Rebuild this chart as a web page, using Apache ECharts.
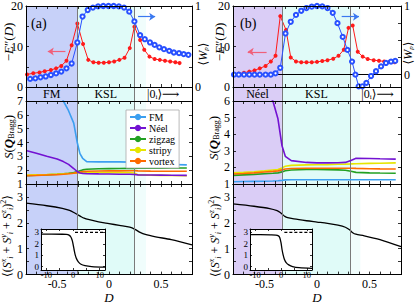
<!DOCTYPE html>
<html><head><meta charset="utf-8">
<script src="https://cdn.jsdelivr.net/npm/echarts@6/dist/echarts.min.js"></script>
<style>html,body{margin:0;padding:0;background:#fff}#c{width:415px;height:305px}</style>
</head><body><div id="c"></div>
<script>
// ---------------- data ----------------
// top panels: -E''(D) (red, filled) and <W_p> (blue, open)
const dE_a = [-0.79,-0.73,-0.67,-0.62,-0.56,-0.51,-0.46,-0.41,-0.36,-0.305,-0.25,-0.2,-0.15,-0.1,-0.05,0,0.05,0.1,0.15,0.2,0.245,0.3,0.34,0.39,0.44,0.49,0.54,0.59,0.64,0.68];
const E_a  = [3.1,3.4,3.6,3.9,4.2,4.6,5.2,6.5,10.3,15.7,10.6,6.7,6.1,6.0,6.0,6.1,6.3,6.7,7.2,9.6,14.9,11.6,9.2,7.5,6.9,6.7,6.5,6.3,6.1,5.9];
const dW_a = [-0.76,-0.71,-0.66,-0.61,-0.56,-0.51,-0.46,-0.41,-0.36,-0.305,-0.255,-0.205,-0.155,-0.105,-0.055,-0.005,0.045,0.095,0.145,0.195,0.245,0.3,0.345,0.395,0.44,0.485,0.53,0.58,0.625,0.675,0.72,0.765];
const W_a  = [0.10,0.107,0.12,0.13,0.148,0.168,0.19,0.23,0.29,0.55,0.87,0.95,0.98,0.995,1.0,1.0,1.0,0.995,0.98,0.93,0.81,0.64,0.59,0.55,0.52,0.49,0.467,0.446,0.426,0.418,0.406,0.397];

const dE_b = [-0.79,-0.745,-0.695,-0.645,-0.595,-0.545,-0.49,-0.44,-0.395,-0.35,-0.295,-0.25,-0.2,-0.15,-0.1,-0.05,0,0.05,0.1,0.155,0.205,0.255,0.3,0.34,0.388,0.435,0.483,0.54,0.59,0.64,0.69,0.74];
const E_b  = [3.0,3.3,3.5,3.8,4.1,4.6,5.2,6.3,7.7,17.5,14.1,7.3,6.3,6.1,6.1,6.1,6.2,6.4,6.6,7.0,7.7,9.2,14.6,15.2,8.7,7.5,6.9,6.6,6.5,6.3,6.2,6.1];
const dW_b = [-0.79,-0.745,-0.695,-0.645,-0.595,-0.545,-0.49,-0.44,-0.395,-0.35,-0.3,-0.25,-0.2,-0.15,-0.1,-0.05,0,0.05,0.1,0.15,0.195,0.245,0.29,0.334,0.366,0.397,0.432,0.47,0.515,0.562,0.61,0.657,0.705,0.745];
const W_b  = [0,0,0,0,0,0,0,0,0.02,0.1,0.6,0.77,0.87,0.93,0.97,0.99,1.0,0.995,0.97,0.9,0.75,0.55,0.36,0.19,0.0,-0.17,-0.17,-0.12,-0.02,0.05,0.12,0.17,0.19,0.2];

// middle panels: S(Q_Bragg)
const dS_a   = [-0.8,-0.7,-0.6,-0.5,-0.44,-0.39,-0.34,-0.306,-0.28,-0.254,-0.215,-0.1,0,0.1,0.2,0.244,0.28,0.4,0.5,0.6,0.75];
const sFM_a  = [12,10.7,9.5,7.9,7.0,6.3,5.4,4.0,3.2,2.86,2.62,2.6,2.6,2.6,2.58,2.55,2.47,2.45,2.43,2.41,2.38];
const sNeel_a= [3.42,3.22,3.0,2.8,2.62,2.42,2.12,1.9,1.8,1.77,1.75,1.73,1.72,1.71,1.7,1.69,1.66,1.65,1.64,1.63,1.62];
const sZig_a = [1.6,1.63,1.66,1.7,1.74,1.78,1.83,1.88,1.95,2.02,2.07,2.1,2.11,2.12,2.13,2.13,2.14,2.15,2.15,2.16,2.16];
const sStr_a = [1.65,1.67,1.69,1.72,1.74,1.76,1.78,1.8,1.81,1.82,1.82,1.82,1.82,1.82,1.82,1.8,1.66,1.63,1.62,1.61,1.6];
const sVor_a = [1.6,1.62,1.65,1.68,1.71,1.74,1.78,1.82,1.86,1.9,1.92,1.94,1.95,1.95,1.96,1.96,1.95,1.93,1.92,1.92,1.92];

const dS_b   = [-0.8,-0.7,-0.6,-0.5,-0.42,-0.372,-0.334,-0.302,-0.245,-0.1,0,0.1,0.2,0.27,0.323,0.372,0.5,0.6,0.75];
const sFM_b  = [1.14,1.15,1.16,1.17,1.18,1.2,1.22,1.25,1.26,1.26,1.26,1.26,1.26,1.26,1.26,1.26,1.26,1.26,1.26];
const sNeel_b= [10,8.8,7.7,6.8,6.0,4.93,3.32,2.67,2.41,2.3,2.27,2.27,2.28,2.3,2.42,2.55,2.54,2.52,2.5];
const sZig_b = [1.52,1.55,1.58,1.62,1.65,1.67,1.73,1.8,1.84,1.87,1.87,1.86,1.85,1.83,1.77,1.7,1.67,1.66,1.65];
const sStr_b = [1.67,1.7,1.74,1.79,1.84,1.87,1.97,2.07,2.12,2.15,2.16,2.17,2.19,2.2,2.21,2.22,2.24,2.25,2.27];
const sVor_b = [1.6,1.63,1.67,1.72,1.76,1.79,1.85,1.9,1.93,1.95,1.95,1.95,1.95,1.95,1.95,1.94,1.92,1.91,1.9];

// bottom panels: <(Sx+Sy+Sz)^2>
const dB_a = [-0.8,-0.6,-0.45,-0.38,-0.33,-0.3,-0.27,-0.24,-0.2,-0.1,0,0.1,0.2,0.25,0.3,0.35,0.45,0.6,0.8];
const B_a  = [2.76,2.66,2.56,2.48,2.38,2.31,2.24,2.18,2.13,2.04,1.97,1.9,1.83,1.75,1.63,1.55,1.46,1.35,1.15];
const dB_b = [-0.8,-0.6,-0.45,-0.38,-0.35,-0.33,-0.31,-0.28,-0.22,-0.1,0,0.1,0.2,0.27,0.31,0.34,0.37,0.45,0.6,0.8];
const B_b  = [2.73,2.64,2.55,2.47,2.4,2.33,2.26,2.2,2.15,2.08,2.03,1.98,1.91,1.83,1.73,1.62,1.56,1.5,1.35,1.08];

// insets
const dI_a = [-12,-8,-4,-2.5,-1.5,-0.8,-0.3,0,0.4,0.8,1.3,2,3,4.5,7,12];
const I_a  = [2.85,2.85,2.84,2.82,2.76,2.6,2.3,2.0,1.5,1.05,0.7,0.42,0.2,0.08,0.0,-0.05];
const dI_b = [-12,-8,-4,-2,-1,-0.5,0,0.4,0.8,1.3,2,3,4.5,7,12];
const I_b  = [2.8,2.8,2.79,2.77,2.7,2.55,2.1,1.5,1.05,0.65,0.35,0.15,0.0,-0.1,-0.15];
const dDash_a = [0.75,12], yDash_a = [3,3];
const dDash_b = [1.3,12],  yDash_b = [3,3];

// phase boundaries
const bounds_a = [-0.306,0.244,0.357];
const bounds_b = [-0.334,0.323,0.413];

// ticks / tick labels
const D_TICKS  = [-0.8,-0.7,-0.6,-0.5,-0.4,-0.3,-0.2,-0.1,0,0.1,0.2,0.3,0.4,0.5,0.6,0.7,0.8];
const D_LABELS = [-0.5,0,0.5];
const E_TICKS = [0,5,10,15,20], E_LABELS = [0,10,20];
const W_TICKS = [0,0.25,0.5,0.75,1], W_LABELS = [0,1];
const S_TICKS_a = [1,2,3,4,5,6,7], S_TICKS_b = [1,2,3,4,5,6];
const B_TICKS = [0,0.5,1,1.5,2,2.5,3], B_LABELS = [0,1,2,3];
const IX_TICKS = [-10,-5,0,5,10], IX_LABELS = [-10,0,10];
const IY_TICKS = [0,1,2,3];
const LEGEND = ['FM','Néel','zigzag','stripy','vortex'];

// ---------------- layout / style ----------------
const FONT = '"Liberation Serif","DejaVu Serif",serif';
const COLORS = {FM:'#3c9ff0', 'Néel':'#7312d2', zigzag:'#23a023', stripy:'#e6e600', vortex:'#ff6a00'};
const RED = '#ff1a1a', BLUE = '#2850ff';
const KSL = '#e0fbf8', LIGHT = '#f0fdfc';

const grids = [], xAxes = [], yAxes = [], series = [];
function addGrid(o){ grids.push(Object.assign({containLabel:false}, o)); return grids.length-1; }
function addAxis(list, g, pos, min, max, ticks, labels, o){
  o = o || {};
  list.push({
    gridIndex:g, type:'value', position:pos, min:min, max:max, z:o.z||10, show:o.show!==false,
    axisLine:{show:true, onZero:false, lineStyle:{color:'#000', width:1}},
    axisTick:{show:!!ticks, inside:true, length:o.tl||3, customValues:ticks||[], lineStyle:{color:'#000', width:0.8}},
    axisLabel:{show:!!labels, customValues:labels||[], color:'#000', fontFamily:FONT, fontSize:o.fs||12,
      margin:(o.margin===undefined?3:o.margin), lineHeight:o.lh},
    splitLine:{show:false},
    name:o.name, nameLocation:'middle', nameGap:o.nameGap,
    nameTextStyle:{fontFamily:FONT, fontStyle:'italic', fontSize:13, color:'#000'}
  });
  return list.length-1;
}
function pairs(xs, ys){ return xs.map((x,i)=>[x, ys[i]]); }
function bg(xi, yi, b, phaseColor, withText, phaseName){
  const txt = {show:!!withText, position:'inside', color:'#000', fontFamily:FONT, fontSize:12};
  return {
    type:'line', data:[], xAxisIndex:xi, yAxisIndex:yi, silent:true, z:1, symbol:'none',
    markArea:{silent:true, label:txt, data:[
      [{xAxis:-0.8, name:phaseName, itemStyle:{color:phaseColor}}, {xAxis:b[0]}],
      [{xAxis:b[0], name:'KSL', itemStyle:{color:KSL}}, {xAxis:b[1]}],
      [{xAxis:b[1], name:'', itemStyle:{color:LIGHT}}, {xAxis:b[2]}],
      [{xAxis:b[2], name:'|0ᵢ⟩⟶', itemStyle:{color:'rgba(0,0,0,0)'}, label:{position:'insideLeft', distance:1}}, {xAxis:0.8}]
    ]},
    markLine:{silent:true, symbol:'none', label:{show:false}, lineStyle:{color:'#7a7a7a', width:1, type:'solid'},
      data:[{xAxis:b[0]},{xAxis:b[1]}]}
  };
}

const PANELS = [
  {left:26, width:166, b:bounds_a, phase:'FM', phaseColor:'#c7d1f9', wMin:0,
   E:[dE_a,E_a], W:[dW_a,W_a], dS:dS_a, S:[sFM_a,sNeel_a,sZig_a,sStr_a,sVor_a], sMax:7, sTicks:S_TICKS_a,
   B:[dB_a,B_a], I:[dI_a,I_a], dash:[dDash_a,yDash_a], inset:{left:41,top:229,width:64,height:41},
   arrows:{red:[-0.42,-0.59,8.75], blue:[0.28,0.445,0.868]}, zero:false},
  {left:233, width:168, b:bounds_b, phase:'Néel', phaseColor:'#dacdf6', wMin:-0.18,
   E:[dE_b,E_b], W:[dW_b,W_b], dS:dS_b, S:[sFM_b,sNeel_b,sZig_b,sStr_b,sVor_b], sMax:6, sTicks:S_TICKS_b,
   B:[dB_b,B_b], I:[dI_b,I_b], dash:[dDash_b,yDash_b], inset:{left:250,top:229,width:62,height:41},
   arrows:{red:[-0.48,-0.66,8.7], blue:[0.235,0.40,0.844]}, zero:true}
];

PANELS.forEach((P, pi) => {
  const L = P.left, Wd = P.width;
  // --- top ---
  const gT = addGrid({left:L, top:6, width:Wd, height:81});
  const xT = addAxis(xAxes, gT, 'bottom', -0.8, 0.8, D_TICKS, null);
  addAxis(xAxes, gT, 'top', -0.8, 0.8, D_TICKS, null);
  const yT = addAxis(yAxes, gT, 'left', 0, 20, E_TICKS, E_LABELS);
  const yW = addAxis(yAxes, gT, 'right', P.wMin, 1, W_TICKS, W_LABELS);
  series.push(bg(xT, yT, P.b, P.phaseColor, false, ''));
  const aR = P.arrows.red, aB = P.arrows.blue;
  series.push({type:'line', data:pairs(P.E[0],P.E[1]), xAxisIndex:xT, yAxisIndex:yT, z:4,
    symbol:'circle', symbolSize:4, color:RED, lineStyle:{color:RED, width:1}, itemStyle:{color:RED},
    markLine:{silent:true, symbol:['none','arrow'], symbolSize:6, label:{show:false},
      lineStyle:{color:'#f0607a', width:1.2, type:'solid'},
      data:[[{coord:[aR[0],aR[2]]},{coord:[aR[1],aR[2]]}]]}});
  const wML = [[{coord:[aB[0],aB[2]]},{coord:[aB[1],aB[2]]}]];
  if (P.zero) wML.push([{coord:[-0.8,0], symbol:'none', lineStyle:{color:'#000', width:1}},{coord:[0.8,0], symbol:'none'}]);
  series.push({type:'line', data:pairs(P.W[0],P.W[1]), xAxisIndex:xT, yAxisIndex:yW, z:5,
    symbol:'emptyCircle', symbolSize:4.2, color:BLUE, lineStyle:{color:BLUE, width:1},
    itemStyle:{color:BLUE, borderColor:BLUE, borderWidth:0.9},
    markLine:{silent:true, symbol:['none','arrow'], symbolSize:6, label:{show:false},
      lineStyle:{color:'#3a78f0', width:1.2, type:'solid'}, data:wML}});

  // --- strip ---
  const gS = addGrid({left:L, top:87, width:Wd, height:14});
  const xS = addAxis(xAxes, gS, 'bottom', -0.8, 0.8, null, null, {show:false});
  const yS = addAxis(yAxes, gS, 'left', 0, 1, null, null);
  addAxis(yAxes, gS, 'right', 0, 1, null, null);
  series.push(bg(xS, yS, P.b, P.phaseColor, true, P.phase));

  // --- middle ---
  const gM = addGrid({left:L, top:101, width:Wd, height:83});
  const xM = addAxis(xAxes, gM, 'bottom', -0.8, 0.8, D_TICKS, null);
  addAxis(xAxes, gM, 'top', -0.8, 0.8, D_TICKS, null);
  const yM = addAxis(yAxes, gM, 'left', 1, P.sMax, P.sTicks, P.sTicks);
  addAxis(yAxes, gM, 'right', 1, P.sMax, P.sTicks, null);
  series.push(bg(xM, yM, P.b, P.phaseColor, false, ''));
  LEGEND.forEach((nm, k) => {
    series.push({type:'line', name:nm, data:pairs(P.dS, P.S[k]), xAxisIndex:xM, yAxisIndex:yM,
      z:4 + (nm==='FM'||nm==='Néel' ? 1 : 0), symbol:'none', color:COLORS[nm],
      lineStyle:{color:COLORS[nm], width:1.6}});
  });

  // --- bottom ---
  const gB = addGrid({left:L, top:184, width:Wd, height:96});
  const xB = addAxis(xAxes, gB, 'bottom', -0.8, 0.8, D_TICKS, D_LABELS, {name:'D', nameGap:16, margin:3.5});
  addAxis(xAxes, gB, 'top', -0.8, 0.8, D_TICKS, null);
  const yB = addAxis(yAxes, gB, 'left', 0, 3.5, B_TICKS, B_LABELS);
  addAxis(yAxes, gB, 'right', 0, 3.5, B_TICKS, null);
  series.push(bg(xB, yB, P.b, P.phaseColor, false, ''));
  series.push({type:'line', data:pairs(P.B[0],P.B[1]), xAxisIndex:xB, yAxisIndex:yB, z:4,
    symbol:'none', smooth:0.3, lineStyle:{color:'#000', width:1.3}});

  // --- inset ---
  const I = P.inset;
  const gI = addGrid({left:I.left, top:I.top, width:I.width, height:I.height, show:true,
    backgroundColor:'#fff', borderWidth:0, z:20});
  const io = {z:22, fs:8.5, margin:0.5, tl:2, lh:8};
  const xI = addAxis(xAxes, gI, 'bottom', -12, 12, IX_TICKS, IX_LABELS, io);
  addAxis(xAxes, gI, 'top', -12, 12, IX_TICKS, null, io);
  const yI = addAxis(yAxes, gI, 'left', -0.3, 3.3, IY_TICKS, IY_TICKS, {z:22, fs:9, margin:2, tl:2, lh:9});
  addAxis(yAxes, gI, 'right', -0.3, 3.3, IY_TICKS, null, io);
  series.push({type:'line', data:pairs(P.I[0],P.I[1]), xAxisIndex:xI, yAxisIndex:yI, z:23,
    symbol:'none', smooth:0.3, lineStyle:{color:'#000', width:1.3}});
  series.push({type:'line', data:pairs(P.dash[0],P.dash[1]), xAxisIndex:xI, yAxisIndex:yI, z:23,
    symbol:'none', lineStyle:{color:'#000', width:1.2, type:[3,2]}});
});

const rich = {
  i:{fontFamily:FONT, fontStyle:'italic', fontSize:13, lineHeight:15},
  bi:{fontFamily:FONT, fontStyle:'italic', fontWeight:'bold', fontSize:13, lineHeight:15},
  n:{fontFamily:FONT, fontSize:13, lineHeight:15},
  s:{fontFamily:FONT, fontSize:8, lineHeight:8, verticalAlign:'bottom'},
  si:{fontFamily:FONT, fontStyle:'italic', fontSize:8, lineHeight:8, verticalAlign:'bottom'},
  p:{fontFamily:FONT, fontStyle:'italic', fontSize:8, lineHeight:8, verticalAlign:'top'},
  pn:{fontFamily:FONT, fontSize:8, lineHeight:8, verticalAlign:'top'},
  m:{fontFamily:FONT, fontSize:12, lineHeight:15},
  mi:{fontFamily:FONT, fontStyle:'italic', fontSize:12, lineHeight:15},
  wn:{fontFamily:FONT, fontSize:12, lineHeight:13},
  wi:{fontFamily:FONT, fontStyle:'italic', fontSize:12, lineHeight:13},
  ws:{fontFamily:FONT, fontStyle:'italic', fontSize:7, lineHeight:7, verticalAlign:'bottom'}
};
function vtext(x, y, text, rot){
  return {type:'text', x:x, y:y, rotation:rot===undefined?Math.PI/2:rot, z:50,
    style:{text:text, rich:rich, fontFamily:FONT, fontSize:13, lineHeight:15, fill:'#000', align:'center', verticalAlign:'middle'}};
}
const tE = '{n|−}{i|E}{n|″(}{i|D}{n|)}';
const tW = '{wn|⟨}{wi|W}{ws|p}{wn|⟩}';
const tS = '{i|S}{n|(}{bi|Q}{s|Bragg}{n|)}';
const tB = '{m|⟨(}{mi|S}{p|x}{si|i}{m| + }{mi|S}{p|y}{si|i}{m| + }{mi|S}{p|z}{si|i}{m|)}{pn|2}{m|⟩}';
const graphic = [
  vtext(8, 42, tE), vtext(219, 42, tE),
  vtext(203, 54, tW), vtext(408, 53, tW),
  vtext(8, 137, tS), vtext(213, 138, tS),
  vtext(7, 236, tB), vtext(215, 236, tB),
  {type:'text', x:31, y:23, z:50, style:{text:'(a)', fontFamily:FONT, fontSize:14, fill:'#000', align:'left', verticalAlign:'middle'}},
  {type:'text', x:240, y:23, z:50, style:{text:'(b)', fontFamily:FONT, fontSize:14, fill:'#000', align:'left', verticalAlign:'middle'}}
];

const chart = echarts.init(document.getElementById('c'), null, {renderer:'svg'});
chart.setOption({
  animation:false,
  backgroundColor:'#fff',
  grid:grids, xAxis:xAxes, yAxis:yAxes, series:series, graphic:graphic,
  legend:{data:LEGEND, selectedMode:false, orient:'vertical', left:126, top:110,
    itemWidth:16, itemHeight:8, itemGap:1, padding:[2,4,2,3],
    backgroundColor:'#fff', borderColor:'#aaa', borderWidth:0.8, z:30,
    textStyle:{fontFamily:FONT, fontSize:10, color:'#000', padding:[0,0,0,-2]}}
});
</script></body></html>
